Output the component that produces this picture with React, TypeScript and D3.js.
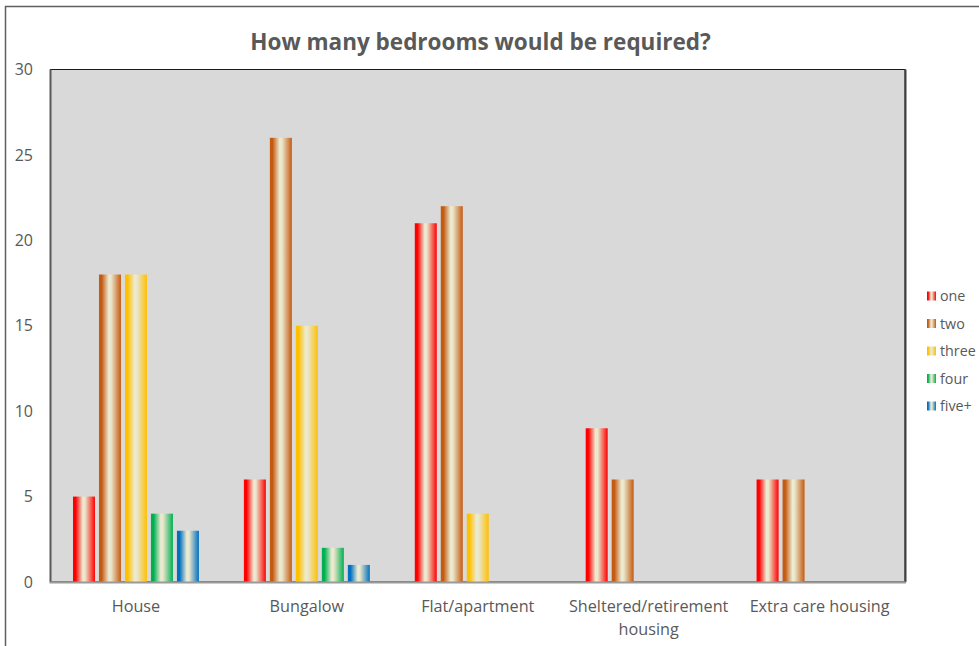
import React from "react";
import * as d3 from "d3";

const categories = ["House", "Bungalow", "Flat/apartment", "Sheltered/retirement housing", "Extra care housing"];
const categoryLines: string[][] = [["House"], ["Bungalow"], ["Flat/apartment"], ["Sheltered/retirement", "housing"], ["Extra care housing"]];
const series = ["one", "two", "three", "four", "five+"];
const seriesColors = ["#ff0000", "#c55a11", "#ffc000", "#00b050", "#0070c0"];
const one = [5, 6, 21, 9, 6];
const two = [18, 26, 22, 6, 6];
const three = [18, 15, 4, 0, 0];
const four = [4, 2, 0, 0, 0];
const fivePlus = [3, 1, 0, 0, 0];
const values = [one, two, three, four, fivePlus];
const yTicks = [0, 5, 10, 15, 20, 25, 30];
const title = "How many bedrooms would be required?";

const W = 979;
const H = 646;
const plot = { left: 50.5, right: 905, top: 69.5, bottom: 582 };
const FONT = "'Open Sans', 'Noto Sans', sans-serif";
const TEXT = "#595959";

export default function App() {
  const x0 = d3.scaleBand<string>().domain(categories).range([plot.left, plot.right]).padding(0);
  const x1 = d3
    .scaleBand<string>()
    .domain(series)
    .range([0, x0.bandwidth()])
    .paddingInner(0.154)
    .paddingOuter(0.865);
  const y = d3.scaleLinear().domain([0, 30]).range([plot.bottom, plot.top]);

  return (
    <svg
      width={W}
      height={H}
      style={{ position: "fixed", left: 0, top: 0, display: "block", background: "#fff" }}
      fontFamily={FONT}
    >
      <defs>
        {series.map((s, i) => (
          <linearGradient key={s} id={`grad-${i}`} x1="0" x2="1" y1="0" y2="0">
            <stop offset="0" stopColor={seriesColors[i]} />
            <stop offset="0.12" stopColor={seriesColors[i]} stopOpacity={1} />
            <stop offset="0.45" stopColor="#ecebd3" />
            <stop offset="0.55" stopColor="#e9e6cb" />
            <stop offset="1" stopColor={seriesColors[i]} />
          </linearGradient>
        ))}
      </defs>

      {/* chart frame */}
      <rect x={5.5} y={6.5} width={W + 20} height={H + 20} fill="#fff" stroke="#5f5f5f" strokeWidth={1.5} />

      <text x={480.5} y={50} textAnchor="middle" fontSize={22.5} fontWeight="bold" fill={TEXT}>
        {title}
      </text>

      {/* plot area */}
      <rect
        x={plot.left}
        y={plot.top}
        width={plot.right - plot.left}
        height={plot.bottom - plot.top}
        fill="#d9d9d9"
        stroke="#1a1a1a"
        strokeWidth={1}
      />
      <line x1={plot.right + 0.5} x2={plot.right + 0.5} y1={plot.top} y2={plot.bottom} stroke="#404040" strokeWidth={2} />

      {/* bars */}
      {values.map((vals, si) =>
        vals.map((v, ci) =>
          v > 0 ? (
            <rect
              key={`${si}-${ci}`}
              x={(x0(categories[ci]) as number) + (x1(series[si]) as number)}
              y={y(v)}
              width={x1.bandwidth()}
              height={y(0) - y(v)}
              fill={`url(#grad-${si})`}
            />
          ) : null
        )
      )}

      {/* axes */}
      <line x1={plot.left} x2={plot.left} y1={plot.top} y2={plot.bottom} stroke="#595959" strokeWidth={2} />
      <line x1={plot.left - 1} x2={plot.right + 1} y1={plot.bottom + 0.5} y2={plot.bottom + 0.5} stroke="#9a9a9a" strokeWidth={2} />

      {yTicks.map((t) => (
        <text key={t} x={33} y={y(t)} dy="0.35em" textAnchor="end" fontSize={16} fill={TEXT}>
          {t}
        </text>
      ))}

      {categories.map((c, ci) => {
        const cx = (x0(c) as number) + x0.bandwidth() / 2;
        return (
          <text key={c} x={cx} y={612} textAnchor="middle" fontSize={16.2} fill={TEXT}>
            {categoryLines[ci].map((ln, li) => (
              <tspan key={li} x={cx} dy={li === 0 ? 0 : 23}>
                {ln}
              </tspan>
            ))}
          </text>
        );
      })}

      {/* legend */}
      {series.map((s, i) => {
        const ly = 296 + i * 27.5;
        return (
          <g key={s}>
            <rect x={927} y={ly - 4.5} width={9} height={9} fill={`url(#grad-${i})`} />
            <text x={940} y={ly} dy="0.35em" fontSize={14.3} fill={TEXT}>
              {s}
            </text>
          </g>
        );
      })}
    </svg>
  );
}
